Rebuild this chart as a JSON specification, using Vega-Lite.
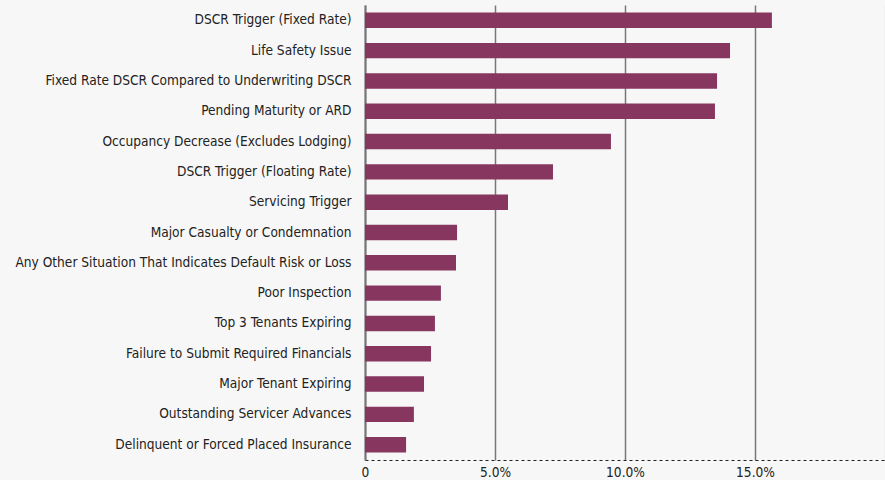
{
  "$schema": "https://vega.github.io/schema/vega-lite/v6.json",
  "autosize": {"type": "none"},
  "padding": {"left": 365, "top": 5, "right": 0, "bottom": 20},
  "width": 520,
  "height": 455,
  "background": "#f7f7f7",
  "config": {
    "view": {"stroke": null},
    "font": "DejaVu Sans Condensed"
  },
  "data": {
    "values": [
      {"trigger": "DSCR Trigger (Fixed Rate)", "pct": 15.65},
      {"trigger": "Life Safety Issue", "pct": 14.04},
      {"trigger": "Fixed Rate DSCR Compared to Underwriting DSCR", "pct": 13.54},
      {"trigger": "Pending Maturity or ARD", "pct": 13.46},
      {"trigger": "Occupancy Decrease (Excludes Lodging)", "pct": 9.46},
      {"trigger": "DSCR Trigger (Floating Rate)", "pct": 7.23},
      {"trigger": "Servicing Trigger", "pct": 5.5},
      {"trigger": "Major Casualty or Condemnation", "pct": 3.54},
      {"trigger": "Any Other Situation That Indicates Default Risk or Loss", "pct": 3.5},
      {"trigger": "Poor Inspection", "pct": 2.92},
      {"trigger": "Top 3 Tenants Expiring", "pct": 2.69},
      {"trigger": "Failure to Submit Required Financials", "pct": 2.54},
      {"trigger": "Major Tenant Expiring", "pct": 2.27},
      {"trigger": "Outstanding Servicer Advances", "pct": 1.88},
      {"trigger": "Delinquent or Forced Placed Insurance", "pct": 1.58}
    ]
  },
  "mark": {"type": "bar", "color": "#87365f"},
  "encoding": {
    "y": {
      "field": "trigger",
      "type": "nominal",
      "sort": null,
      "title": null,
      "scale": {"paddingInner": 0.49, "paddingOuter": 0.25},
      "axis": {
        "ticks": false,
        "domainColor": "#777777",
        "domainWidth": 2,
        "labelFontSize": 13.6,
        "labelColor": "#222222",
        "labelPadding": 14,
        "labelLimit": 400
      }
    },
    "x": {
      "field": "pct",
      "type": "quantitative",
      "title": null,
      "scale": {"domain": [0, 20], "nice": false},
      "axis": {
        "values": [0, 5, 10, 15, 20],
        "labelExpr": "datum.value == 0 ? '0' : (datum.value == 20 ? '' : format(datum.value, '.1f') + '%')",
        "ticks": false,
        "labelFlush": false,
        "domainColor": "#222222",
        "domainDash": [3, 3],
        "domainWidth": 1,
        "labelFontSize": 13.6,
        "labelColor": "#222222",
        "labelPadding": 5,
        "gridColor": {"condition": {"test": "datum.value == 20", "value": "#dddddd"}, "value": "#777777"},
        "gridWidth": 1.5,
        "gridOpacity": 1
      }
    }
  }
}
